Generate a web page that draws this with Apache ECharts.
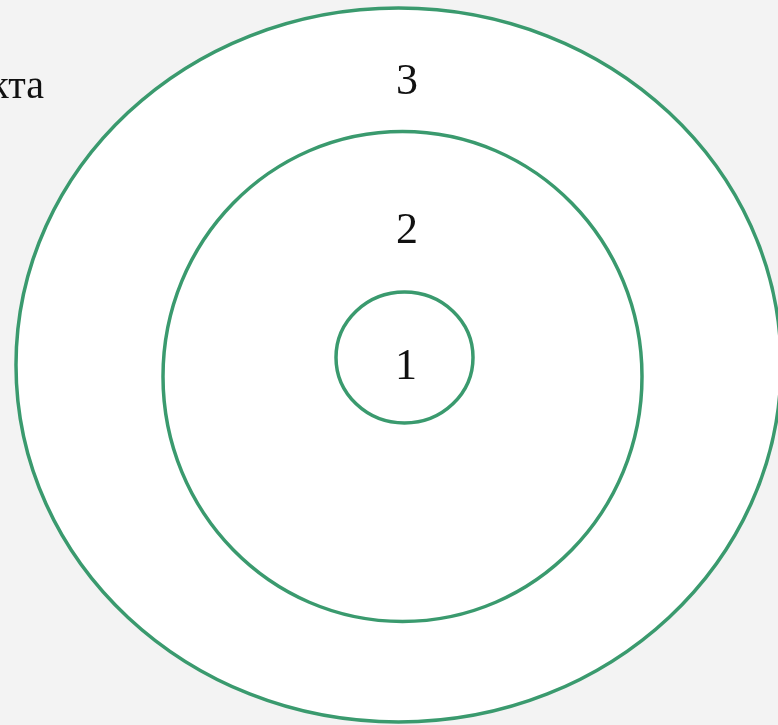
<!DOCTYPE html>
<html>
<head>
<meta charset="utf-8">
<script src="https://cdn.jsdelivr.net/npm/echarts@6/dist/echarts.min.js"></script>
<style>
html,body{margin:0;padding:0;background:#f3f3f3;}
#chart{width:778px;height:725px;}
</style>
</head>
<body>
<div id="chart"></div>
<script>
// Ring labels (outer to inner)
const labels = ['3', '2', '1'];
// Ellipse centres and radii, in chart units (x right, y down)
const centerX = [398.5, 402.5, 404.5];
const centerY = [365, 376.5, 357.5];
const radiusX = [382.5, 239.5, 68.5];
const radiusY = [357, 245, 65.5];
// Label positions
const labelX = [407, 407, 406];
const labelY = [82, 231, 367];
// Side caption (partially cut at left edge)
const captionText = 'кта';
const captionPos = [44, 87];

const chart = echarts.init(document.getElementById('chart'));
const ringData = labels.map((l, i) => [centerX[i], centerY[i], radiusX[i], radiusY[i], labelX[i], labelY[i], l]);

chart.setOption({
  backgroundColor: '#f3f3f3',
  animation: false,
  grid: {left: 0, top: 0, width: 778, height: 725},
  xAxis: {type: 'value', min: 0, max: 778, show: false},
  yAxis: {type: 'value', min: 0, max: 725, inverse: true, show: false},
  series: [
    {
      type: 'custom',
      coordinateSystem: 'cartesian2d',
      data: ringData,
      renderItem: function (params, api) {
        const c = api.coord([api.value(0), api.value(1)]);
        const o = api.coord([0, 0]);
        const r = api.coord([api.value(2), api.value(3)]);
        const rx = Math.abs(r[0] - o[0]);
        const ry = Math.abs(r[1] - o[1]);
        return {
          type: 'ellipse',
          shape: {cx: c[0], cy: c[1], rx: rx, ry: ry},
          style: {fill: '#ffffff', stroke: '#3a9a6e', lineWidth: 3.5},
          z2: params.dataIndex
        };
      }
    },
    {
      type: 'custom',
      coordinateSystem: 'cartesian2d',
      data: ringData,
      z: 3,
      renderItem: function (params, api) {
        const p = api.coord([api.value(4), api.value(5)]);
        return {
          type: 'text',
          x: p[0], y: p[1],
          style: {
            text: ringData[params.dataIndex][6],
            fill: '#111111',
            font: '44px "Liberation Serif", "DejaVu Serif", serif',
            align: 'center',
            verticalAlign: 'middle'
          }
        };
      }
    },
    {
      type: 'custom',
      coordinateSystem: 'cartesian2d',
      data: [[captionPos[0], captionPos[1], captionText]],
      z: 3,
      renderItem: function (params, api) {
        const p = api.coord([api.value(0), api.value(1)]);
        return {
          type: 'text',
          x: p[0], y: p[1],
          style: {
            text: captionText,
            fill: '#111111',
            font: '40px "Liberation Serif", "DejaVu Serif", serif',
            align: 'right',
            verticalAlign: 'middle'
          }
        };
      }
    }
  ]
});
</script>
</body>
</html>
